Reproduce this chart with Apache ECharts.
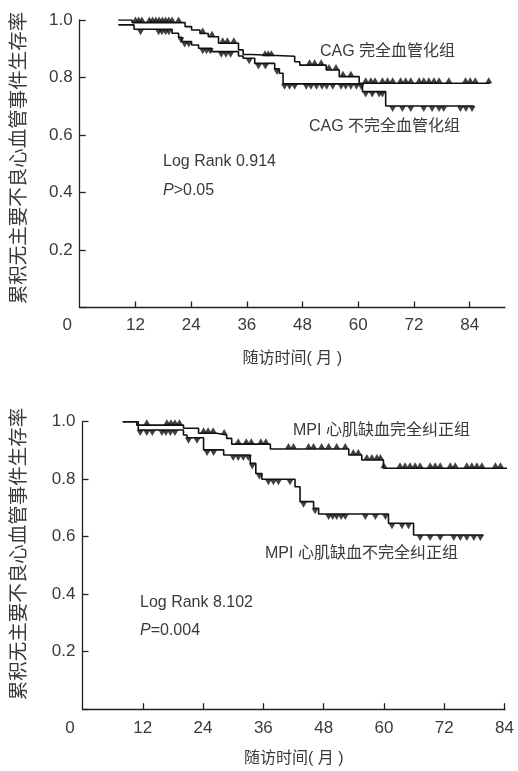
<!DOCTYPE html>
<html><head><meta charset="utf-8">
<script src="https://cdn.jsdelivr.net/npm/echarts@6/dist/echarts.min.js"></script>
<style>html,body{margin:0;padding:0;background:#fff}#c{width:518px;height:771px}</style>
</head><body><div id="c"></div>
<script>
// ---------- Data ----------
const xTicks = [0, 12, 24, 36, 48, 60, 72, 84];
const yTicks = [0, 0.2, 0.4, 0.6, 0.8, 1.0];
const xTitle = '随访时间( 月 )';
const yTitle = '累积无主要不良心血管事件生存率';

// Top: CAG
const cagCompleteName = 'CAG 完全血管化组';
const cagCompleteT = [8.3, 11.3, 22.7, 24.1, 25.9, 27.7, 29.9, 34.2, 35.2, 37.0, 46.3, 47.4, 53.1, 55.9, 60.2];
const cagCompleteS = [1.0, 0.991, 0.977, 0.965, 0.953, 0.942, 0.919, 0.896, 0.880, 0.874, 0.855, 0.843, 0.826, 0.803, 0.780];
const cagCompleteEnd = 88.4;
const cagCompleteCensor = [12.0, 12.7, 13.4, 15.0, 15.7, 16.4, 17.1, 17.8, 18.5, 19.2, 19.9, 21.3, 26.5, 28.5, 30.8, 31.8, 33.2, 39.9, 40.6, 41.3, 49.5, 50.6, 52.0, 53.7, 55.2, 56.7, 58.4, 61.6, 62.7, 63.6, 65.2, 66.3, 67.4, 69.1, 70.2, 71.3, 73.1, 74.1, 75.2, 76.3, 77.4, 79.5, 83.1, 84.1, 85.2, 88.1];

const cagIncompleteName = 'CAG 不完全血管化组';
const cagIncompleteT = [8.3, 11.7, 19.9, 21.3, 22.0, 24.1, 25.6, 28.4, 34.2, 35.2, 37.7, 42.0, 43.0, 43.8, 60.9, 65.9];
const cagIncompleteS = [0.983, 0.968, 0.954, 0.940, 0.925, 0.913, 0.902, 0.890, 0.875, 0.867, 0.849, 0.830, 0.815, 0.778, 0.751, 0.701];
const cagIncompleteEnd = 84.9;
const cagIncompleteCensor = [13.1, 17.0, 17.7, 18.5, 19.2, 21.8, 22.6, 23.5, 26.5, 27.3, 28.1, 30.5, 31.5, 32.5, 36.5, 38.5, 40.0, 42.5, 44.1, 45.2, 46.3, 48.8, 49.8, 51.0, 52.2, 53.2, 54.5, 56.3, 57.3, 58.4, 59.6, 60.6, 61.6, 63.0, 64.5, 65.2, 67.4, 69.5, 71.3, 74.1, 75.9, 77.4, 78.4, 82.0, 83.2, 84.5];
const cagLogRank = 'Log Rank 0.914';
const cagP = '>0.05';

// Bottom: MPI
const mpiCompleteName = 'MPI 心肌缺血完全纠正组';
const mpiCompleteT = [8.0, 10.8, 20.1, 23.1, 26.7, 28.7, 29.7, 37.4, 53.0, 55.6, 59.9];
const mpiCompleteS = [1.0, 0.988, 0.977, 0.960, 0.954, 0.942, 0.922, 0.905, 0.884, 0.867, 0.838];
const mpiCompleteEnd = 84.8;
const mpiCompleteCensor = [12.8, 16.8, 17.6, 18.4, 19.3, 24.1, 25.0, 26.0, 28.2, 31.0, 32.6, 33.6, 35.5, 36.5, 41.0, 42.0, 45.0, 46.0, 47.6, 49.0, 50.6, 52.3, 53.9, 54.9, 56.6, 57.6, 58.6, 59.3, 60.0, 63.2, 64.2, 65.2, 66.2, 67.2, 69.2, 70.2, 71.2, 73.2, 74.2, 76.5, 77.5, 78.5, 79.5, 82.2, 83.2, 84.2];

const mpiIncompleteName = 'MPI 心肌缺血不完全纠正组';
const mpiIncompleteT = [8.0, 11.1, 20.1, 20.8, 24.1, 28.1, 33.4, 34.5, 35.7, 42.3, 43.3, 46.0, 47.0, 60.9, 65.9];
const mpiIncompleteS = [1.0, 0.971, 0.954, 0.944, 0.902, 0.884, 0.855, 0.820, 0.800, 0.774, 0.722, 0.699, 0.679, 0.647, 0.606];
const mpiIncompleteEnd = 79.8;
const mpiIncompleteCensor = [11.5, 12.8, 13.9, 15.8, 16.6, 17.5, 18.4, 21.1, 22.8, 24.8, 26.1, 30.0, 31.0, 32.0, 33.0, 33.8, 35.2, 37.0, 38.0, 39.0, 41.3, 44.0, 46.3, 49.0, 49.8, 50.6, 51.5, 52.3, 56.3, 58.3, 60.3, 61.6, 63.6, 64.9, 67.2, 69.2, 71.2, 73.9, 75.2, 76.5, 77.9, 79.2];
const mpiLogRank = 'Log Rank 8.102';
const mpiP = '=0.004';

// ---------- Helpers ----------
function stepLine(T, S, end) {
  const d = T.map((t, i) => [t, S[i]]);
  d.push([end, S[S.length - 1]]);
  return d;
}
function survAt(T, S, t) {
  let v = S[0];
  for (let i = 0; i < T.length; i++) if (T[i] <= t) v = S[i];
  return v;
}
function censorPts(T, S, C) { return C.map(t => [t, survAt(T, S, t)]); }

const FONT = '"Liberation Sans", "Noto Sans CJK SC", sans-serif';
const TXT = '#3a3a3a';
const LINE = '#222';

function xAxis(gi, max, lblMargin, nameGap) {
  return {
    type: 'value', gridIndex: gi, min: 0, max: max, interval: 12,
    name: xTitle, nameLocation: 'middle', nameGap: nameGap,
    nameTextStyle: { color: TXT, fontSize: 16, fontFamily: FONT },
    axisLine: { lineStyle: { color: LINE, width: 1.3 } },
    axisTick: { inside: true, length: 6, lineStyle: { color: LINE, width: 1.3 }, customValues: xTicks.slice(1) },
    axisLabel: {
      color: TXT, fontSize: 17, fontFamily: FONT, margin: lblMargin,
      customValues: xTicks,
      formatter: v => v === 0 ? '{z|0}' : String(v),
      rich: { z: { padding: [0, 25, 0, 0], fontSize: 17, color: TXT, fontFamily: FONT } }
    },
    splitLine: { show: false }
  };
}
function yAxis(gi) {
  return {
    type: 'value', gridIndex: gi, min: 0, max: 1, interval: 0.2,
    axisLine: { show: true, lineStyle: { color: LINE, width: 1.3 } },
    axisTick: { show: true, inside: true, length: 6, lineStyle: { color: LINE, width: 1.3 } },
    axisLabel: { color: TXT, fontSize: 17, fontFamily: FONT, margin: 7,
      formatter: v => v === 0 ? '' : v.toFixed(1) },
    splitLine: { show: false }
  };
}
function lineSeries(xi, T, S, end) {
  return { type: 'line', xAxisIndex: xi, yAxisIndex: xi, step: 'end', data: stepLine(T, S, end),
    symbol: 'none', lineStyle: { color: '#111', width: 1.6 }, silent: true, z: 2 };
}
function markSeries(xi, T, S, C, up) {
  return { type: 'scatter', xAxisIndex: xi, yAxisIndex: xi, data: censorPts(T, S, C),
    symbol: 'triangle', symbolSize: [7, 6], symbolRotate: up ? 0 : 180,
    symbolOffset: [0, up ? -3 : 3], itemStyle: { color: '#111' }, silent: true, z: 3 };
}
function label(text, x, y) {
  return { type: 'text', x: x, y: y, style: { text: text, fill: TXT, font: '16px ' + FONT, textVerticalAlign: 'middle' } };
}
function plabel(rest, x, y) {
  return { type: 'text', x: x, y: y, style: {
    text: '{i|P}{n|' + rest + '}', textVerticalAlign: 'middle',
    rich: { i: { fontStyle: 'italic', fontSize: 16, fontFamily: FONT, fill: TXT },
            n: { fontSize: 16, fontFamily: FONT, fill: TXT } } } };
}
function ytitle(x, y) {
  return { type: 'text', x: x, y: y, rotation: Math.PI / 2,
    style: { text: yTitle, fill: TXT, font: '19.5px "Noto Sans CJK SC", sans-serif', textAlign: 'center', textVerticalAlign: 'middle' } };
}

const chart = echarts.init(document.getElementById('c'), null, { renderer: 'canvas' });
chart.setOption({
  animation: false,
  backgroundColor: '#fff',
  grid: [
    { left: 79.7, top: 20, width: 425.3, height: 287.5 },
    { left: 82.5, top: 421.7, width: 422.5, height: 287.5 }
  ],
  xAxis: [ xAxis(0, 91.6, 9, 43), xAxis(1, 84.1, 11, 41) ],
  yAxis: [ yAxis(0), yAxis(1) ],
  series: [
    lineSeries(0, cagCompleteT, cagCompleteS, cagCompleteEnd),
    lineSeries(0, cagIncompleteT, cagIncompleteS, cagIncompleteEnd),
    markSeries(0, cagCompleteT, cagCompleteS, cagCompleteCensor, true),
    markSeries(0, cagIncompleteT, cagIncompleteS, cagIncompleteCensor, false),
    lineSeries(1, mpiCompleteT, mpiCompleteS, mpiCompleteEnd),
    lineSeries(1, mpiIncompleteT, mpiIncompleteS, mpiIncompleteEnd),
    markSeries(1, mpiCompleteT, mpiCompleteS, mpiCompleteCensor, true),
    markSeries(1, mpiIncompleteT, mpiIncompleteS, mpiIncompleteCensor, false)
  ],
  graphic: [
    ytitle(18, 158), ytitle(18, 554),
    label(cagCompleteName, 320, 52),
    label(cagIncompleteName, 309, 127),
    label(cagLogRank, 163, 162),
    plabel(cagP, 163, 191),
    label(mpiCompleteName, 293, 431),
    label(mpiIncompleteName, 265, 554),
    label(mpiLogRank, 140, 603),
    plabel(mpiP, 140, 631)
  ]
});
</script></body></html>
